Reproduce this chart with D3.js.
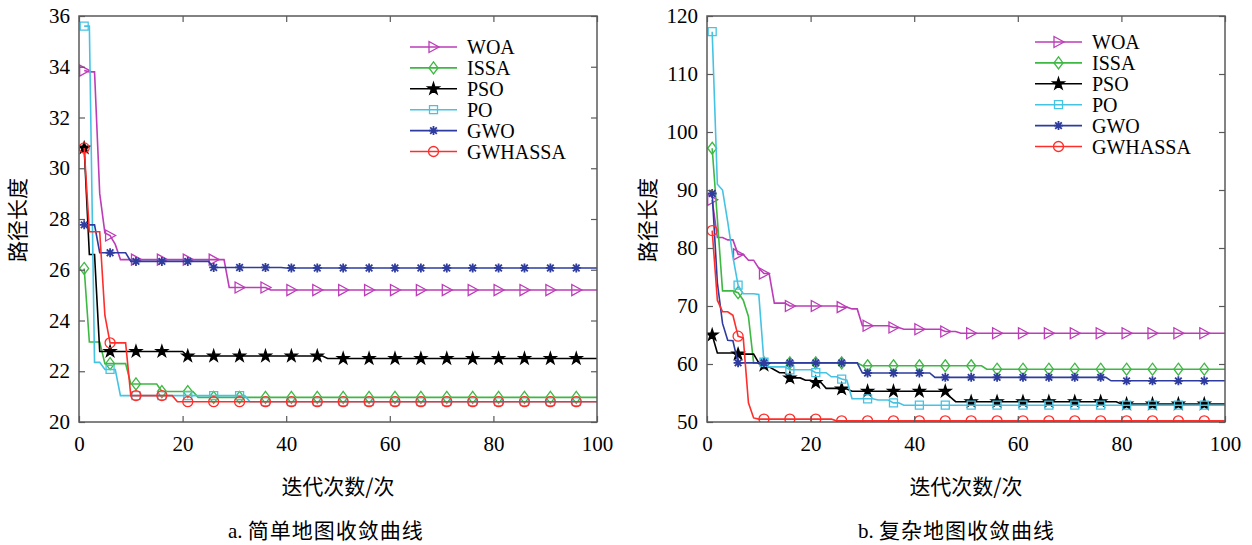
<!DOCTYPE html>
<html>
<head>
<meta charset="utf-8">
<script src="https://cdn.jsdelivr.net/npm/d3@7"></script>
<style>
  body { margin: 0; background: #fff; }
  svg text { fill: #000; }
</style>
</head>
<body>
<svg id="chart" width="1252" height="545"></svg>
<script>
// series names, in drawing order
var names = ['WOA', 'ISSA', 'PSO', 'PO', 'GWO', 'GWHASSA'];
var xTicks = [0, 20, 40, 60, 80, 100];
var leftTicks = [20, 22, 24, 26, 28, 30, 32, 34, 36];
var rightTicks = [50, 60, 70, 80, 90, 100, 110, 120];

// step values: [iteration, value from that iteration on]
// a. simple map
var simpleWOA = [[1, 33.85], [2, 33.8], [4, 29.0], [5, 27.45], [6, 27.35], [7, 27.0], [8, 26.4], [29, 25.3], [37, 25.2]];
var simpleISSA = [[1, 26.05], [2, 23.15], [5, 22.3], [10, 21.5], [16, 21.2], [23, 20.97]];
var simplePSO = [[1, 30.8], [2, 26.6], [4, 22.78], [21, 22.6], [48, 22.5]];
var simplePO = [[1, 35.6], [2, 35.6], [3, 22.35], [5, 22.07], [8, 21.04], [33, 20.8]];
var simpleGWO = [[1, 27.77], [4, 26.67], [10, 26.33], [26, 26.09], [40, 26.07]];
var simpleGWHASSA = [[1, 30.8], [2, 27.5], [5, 24.2], [6, 23.12], [10, 21.04], [19, 20.8]];

// b. complex map
var complexWOA = [[1, 88.3], [2, 81.8], [4, 81.4], [6, 78.9], [8, 77.9], [10, 76.5], [11, 75.6], [13, 70.5], [16, 70.0], [26, 69.8], [28, 69.5], [30, 66.6], [36, 66.3], [38, 66.0], [46, 65.6], [49, 65.3]];
var complexISSA = [[1, 97.2], [2, 85.0], [3, 72.6], [6, 72.3], [7, 71.0], [8, 68.2], [9, 60.2], [30, 59.7], [54, 59.1]];
var complexPSO = [[1, 65.0], [2, 61.9], [6, 61.7], [10, 60.2], [11, 59.8], [12, 59.5], [13, 59.0], [14, 58.5], [16, 57.6], [19, 57.2], [21, 56.8], [23, 55.8], [26, 55.7], [28, 55.3], [47, 54.3], [48, 53.5], [80, 53.1]];
var complexPO = [[1, 117.3], [2, 91.0], [3, 90.0], [4, 84.5], [5, 78.5], [6, 73.6], [7, 72.1], [10, 72.0], [11, 60.3], [12, 59.5], [16, 59.0], [21, 58.5], [24, 57.8], [26, 57.4], [27, 57.2], [28, 54.0], [33, 53.8], [36, 53.3], [38, 52.9]];
var complexGWO = [[1, 89.4], [2, 74.0], [3, 67.0], [4, 64.1], [5, 64.0], [6, 60.2], [30, 58.45], [44, 57.7], [78, 57.1]];
var complexGWHASSA = [[1, 83.0], [2, 71.0], [3, 69.0], [5, 68.4], [6, 64.8], [7, 64.5], [8, 53.3], [9, 50.7], [10, 50.5], [25, 50.2]];

var markerIters = [1, 6, 11, 16, 21, 26, 31, 36, 41, 46, 51, 56, 61, 66, 71, 76, 81, 86, 91, 96];

var colors = {
  WOA: '#bd3cb8',
  ISSA: '#3db843',
  PSO: '#000000',
  PO: '#45c3e3',
  GWO: '#2d3c9e',
  GWHASSA: '#ff2e2a'
};

var svg = d3.select('#chart');
var serif = '"Liberation Serif", "Times New Roman", serif';
var cjk = '"Noto Sans CJK SC", sans-serif';

// value at each iteration 1..100 from the step list
function expand(steps) {
  var out = [];
  var k = 0;
  for (var i = 1; i <= 100; i++) {
    while (k + 1 < steps.length && steps[k + 1][0] <= i) { k++; }
    out.push([i, steps[k][1]]);
  }
  return out;
}

function markerPath(name) {
  if (name == 'WOA') return 'M-4.5,-5.5L5.5,0L-4.5,5.5Z';
  if (name == 'ISSA') return 'M0,-6L4.5,0L0,6L-4.5,0Z';
  if (name == 'PO') return 'M-4,-4L4,-4L4,4L-4,4Z';
  if (name == 'GWO') return 'M0,-4.5L0,4.5M-4.5,0L4.5,0M-3.3,-3.3L3.3,3.3M-3.3,3.3L3.3,-3.3';
  if (name == 'PSO') return d3.symbol(d3.symbolStar, 42)();
  return 'M5,0A5,5 0 1,1 -5,0A5,5 0 1,1 5,0Z';
}

function drawMarker(g, name, x, y) {
  g.append('path')
    .attr('d', markerPath(name))
    .attr('transform', 'translate(' + x + ',' + y + ')')
    .attr('fill', name == 'PSO' ? '#000' : 'none')
    .attr('stroke', colors[name])
    .attr('stroke-width', name == 'GWO' ? 1.8 : 1.3);
}

function drawPanel(opt) {
  var x = d3.scaleLinear().domain([0, 100]).range([opt.left, opt.right]);
  var y = d3.scaleLinear().domain(opt.domain).range([422, 16]);

  var clipId = 'clip' + opt.id;
  svg.append('clipPath').attr('id', clipId)
    .append('rect')
    .attr('x', opt.left).attr('y', 16)
    .attr('width', opt.right - opt.left).attr('height', 406);

  var plot = svg.append('g').attr('clip-path', 'url(#' + clipId + ')');
  var line = d3.line().x(function (d) { return x(d[0]); }).y(function (d) { return y(d[1]); });

  names.forEach(function (name, i) {
    var pts = expand(opt.series[i]);
    plot.append('path')
      .attr('d', line(pts))
      .attr('fill', 'none')
      .attr('stroke', colors[name])
      .attr('stroke-width', 1.6);
    markerIters.forEach(function (it) {
      drawMarker(plot, name, x(it), y(pts[it - 1][1]));
    });
  });

  // axes, MATLAB style: inner ticks on all four sides
  var axisColor = '#5a5a5a';
  var bottom = svg.append('g').attr('transform', 'translate(0,422)')
    .call(d3.axisBottom(x).tickValues(xTicks).tickSize(-6).tickPadding(14));
  var top = svg.append('g').attr('transform', 'translate(0,16)')
    .call(d3.axisTop(x).tickValues(xTicks).tickSize(-6).tickFormat(''));
  var left = svg.append('g').attr('transform', 'translate(' + opt.left + ',0)')
    .call(d3.axisLeft(y).tickValues(opt.ticks).tickSize(-6).tickPadding(9));
  var right = svg.append('g').attr('transform', 'translate(' + opt.right + ',0)')
    .call(d3.axisRight(y).tickValues(opt.ticks).tickSize(-6).tickFormat(''));

  [bottom, top, left, right].forEach(function (a) {
    a.select('.domain').remove();
    a.selectAll('line').attr('stroke', axisColor).attr('stroke-width', 1.2);
    a.selectAll('text').style('font-family', serif).style('font-size', '21px').attr('fill', '#000');
  });

  svg.append('rect')
    .attr('x', opt.left).attr('y', 16)
    .attr('width', opt.right - opt.left).attr('height', 406)
    .attr('fill', 'none').attr('stroke', axisColor).attr('stroke-width', 1.5);

  // labels
  svg.append('text')
    .attr('transform', 'translate(' + opt.yLabelX + ',220) rotate(-90)')
    .attr('text-anchor', 'middle').attr('dominant-baseline', 'central')
    .style('font-family', cjk).style('font-size', '21px')
    .text('路径长度');

  svg.append('text')
    .attr('x', (opt.left + opt.right) / 2).attr('y', 494)
    .attr('text-anchor', 'middle')
    .style('font-family', cjk).style('font-size', '21px')
    .text('迭代次数/次');

  var cap = svg.append('text')
    .attr('x', opt.captionX).attr('y', 538)
    .style('font-size', '21px');
  cap.append('tspan').style('font-family', serif).text(opt.captionTag + '  ');
  cap.append('tspan').style('font-family', cjk).style('letter-spacing', '1px').text(opt.caption);

  // legend
  names.forEach(function (name, i) {
    var ly = opt.legendY + i * 20.9;
    var lg = svg.append('g');
    lg.append('line')
      .attr('x1', opt.legendX).attr('x2', opt.legendX + 47)
      .attr('y1', ly).attr('y2', ly)
      .attr('stroke', colors[name]).attr('stroke-width', 1.6);
    drawMarker(lg, name, opt.legendX + 23.5, ly);
    lg.append('text')
      .attr('x', opt.legendX + 57).attr('y', ly + 7)
      .style('font-family', serif).style('font-size', '20px')
      .text(name);
  });
}

drawPanel({
  id: 'a', left: 79, right: 597, domain: [20, 36], ticks: leftTicks,
  series: [simpleWOA, simpleISSA, simplePSO, simplePO, simpleGWO, simpleGWHASSA],
  yLabelX: 16, captionX: 228, captionTag: 'a.', caption: '简单地图收敛曲线',
  legendX: 410, legendY: 47
});

drawPanel({
  id: 'b', left: 707, right: 1225, domain: [50, 120], ticks: rightTicks,
  series: [complexWOA, complexISSA, complexPSO, complexPO, complexGWO, complexGWHASSA],
  yLabelX: 646, captionX: 858, captionTag: 'b.', caption: '复杂地图收敛曲线',
  legendX: 1035, legendY: 42
});
</script>
</body>
</html>
